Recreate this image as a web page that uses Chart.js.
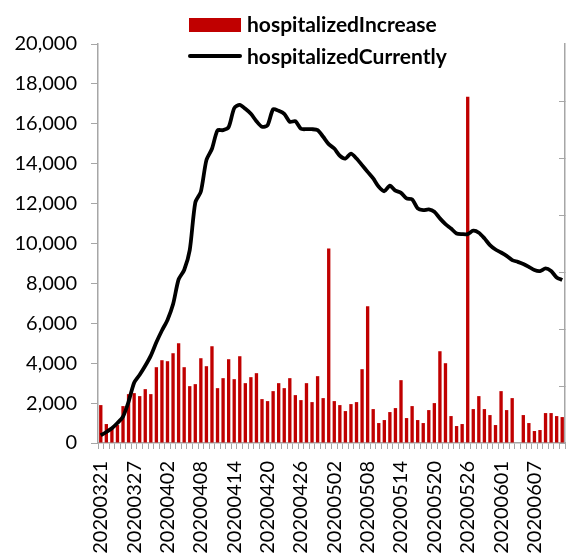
<!DOCTYPE html>
<html>
<head>
<meta charset="utf-8">
<script src="https://cdn.jsdelivr.net/npm/chart.js@4.4.0/dist/chart.umd.min.js"></script>
<style>
  body { margin: 0; background: #fff; }
  #wrap { position: relative; width: 569px; height: 556px; overflow: hidden; }
  .lg-text { position: absolute; font-family: Lato, "Open Sans", sans-serif; font-weight: bold; font-size: 21px; line-height: 24px; color: #000; white-space: nowrap; }
  .lg-box { position: absolute; }
</style>
</head>
<body>
<div id="wrap">
  <canvas id="chart" width="569" height="556"></canvas>
  <div class="lg-box" style="left:189px; top:18px; width:52px; height:14px; background:#C00000;"></div>
  <div class="lg-text" style="left:247px; top:12px;">hospitalizedIncrease</div>
  <div class="lg-box" style="left:188px; top:54px; width:54px; height:4px; background:#000; border-radius:2px;"></div>
  <div class="lg-text" style="left:247px; top:44px;">hospitalizedCurrently</div>
</div>
<script>
// dates (category axis)
const dates = [
  '20200321','20200322','20200323','20200324','20200325','20200326','20200327','20200328','20200329','20200330','20200331',
  '20200401','20200402','20200403','20200404','20200405','20200406','20200407','20200408','20200409','20200410',
  '20200411','20200412','20200413','20200414','20200415','20200416','20200417','20200418','20200419','20200420',
  '20200421','20200422','20200423','20200424','20200425','20200426','20200427','20200428','20200429','20200430',
  '20200501','20200502','20200503','20200504','20200505','20200506','20200507','20200508','20200509','20200510',
  '20200511','20200512','20200513','20200514','20200515','20200516','20200517','20200518','20200519','20200520',
  '20200521','20200522','20200523','20200524','20200525','20200526','20200527','20200528','20200529','20200530','20200531',
  '20200601','20200602','20200603','20200604','20200605','20200606','20200607','20200608','20200609','20200610','20200611','20200612'
];

// daily increase (bars)
const hospitalizedIncrease = [
  1900, 950, 750, 900, 1850, 2450, 2500, 2350, 2700, 2450, 3800,
  4150, 4100, 4500, 5000, 3800, 2850, 2950, 4250, 3850, 4850,
  2750, 3250, 4200, 3200, 4350, 3000, 3300, 3500, 2200, 2100,
  2600, 3000, 2750, 3250, 2400, 2150, 3000, 2050, 3350, 2250,
  9750, 2100, 1900, 1600, 1950, 2050, 3700, 6850, 1700, 1000,
  1150, 1550, 1750, 3150, 1250, 1850, 1150, 1000, 1650, 2000,
  4600, 4000, 1350, 850, 950, 17350, 1700, 2350, 1700, 1400, 900,
  2600, 1650, 2250, null, 1400, 1000, 600, 650, 1500, 1500, 1350, 1300
];

// currently hospitalized (line)
const hospitalizedCurrently = [
  380, 550, 740, 1000, 1320, 2070, 3020, 3420, 3870, 4380, 5050,
  5640, 6170, 6950, 8200, 8670, 9670, 12050, 12600, 14180, 14750,
  15670, 15680, 15830, 16780, 16950, 16750, 16500, 16130, 15850, 15930,
  16730, 16650, 16500, 16100, 16130, 15750, 15730, 15730, 15680, 15350,
  14980, 14760, 14400, 14260, 14510, 14260, 13930, 13590, 13260, 12840,
  12620, 12900, 12650, 12540, 12260, 12210, 11760, 11670, 11710, 11590,
  11260, 10970, 10750, 10500, 10470, 10470, 10640, 10540, 10260, 9920, 9700,
  9550, 9380, 9170, 9080, 8970, 8830, 8670, 8620, 8750, 8620, 8300, 8170
];

const axisGray = '#a6a6a6';
const tickFont = { family: 'Lato, "Open Sans", sans-serif', size: 20 };

const ctx = document.getElementById('chart').getContext('2d');
new Chart(ctx, {
  type: 'bar',
  data: {
    labels: dates,
    datasets: [
      {
        type: 'line',
        label: 'hospitalizedCurrently',
        data: hospitalizedCurrently,
        borderColor: '#000',
        borderWidth: 3.8,
        pointRadius: 0,
        tension: 0.25,
        yAxisID: 'y',
        order: 0
      },
      {
        type: 'bar',
        label: 'hospitalizedIncrease',
        data: hospitalizedIncrease,
        backgroundColor: '#C00000',
        categoryPercentage: 1,
        barPercentage: 0.6,
        yAxisID: 'y',
        order: 1
      }
    ]
  },
  options: {
    responsive: false,
    animation: false,
    layout: { padding: { top: 44, left: 0, right: 0, bottom: 0 } },
    plugins: {
      legend: { display: false },
      tooltip: { enabled: false }
    },
    scales: {
      x: {
        offset: true,
        grid: { drawOnChartArea: false, drawTicks: true, tickLength: 6, color: axisGray, offset: true },
        border: { color: axisGray, width: 1.5 },
        ticks: {
          autoSkip: false,
          minRotation: 90,
          maxRotation: 90,
          padding: 12,
          color: '#000',
          font: tickFont,
          callback: function (value, index) {
            return index % 6 === 0 ? dates[index] : '';
          }
        },
        afterFit: function (scale) {
          scale.height = 113;
          scale.paddingLeft = 0;
          scale.paddingRight = 0;
        }
      },
      y: {
        position: 'left',
        min: 0,
        max: 20000,
        grid: { drawOnChartArea: false, drawTicks: true, tickLength: 7, color: axisGray },
        border: { color: axisGray, width: 1.5 },
        ticks: {
          stepSize: 2000,
          padding: 14,
          color: '#000',
          font: tickFont,
          callback: function (v) { return v.toLocaleString('en-US'); }
        },
        afterFit: function (scale) {
          scale.width = 98;
          scale.paddingTop = 0;
          scale.paddingBottom = 0;
        }
      },
      y2: {
        position: 'right',
        min: 0,
        max: 14000,
        grid: {
          drawOnChartArea: false,
          drawTicks: true,
          tickLength: -6,
          color: function (c) { return c.tick && c.tick.value === 14000 ? 'rgba(0,0,0,0)' : axisGray; }
        },
        border: { color: axisGray, width: 1.5 },
        ticks: { display: false, stepSize: 2000 },
        afterFit: function (scale) {
          scale.width = 4;
          scale.paddingTop = 0;
          scale.paddingBottom = 0;
        }
      }
    }
  }
});
</script>
</body>
</html>
